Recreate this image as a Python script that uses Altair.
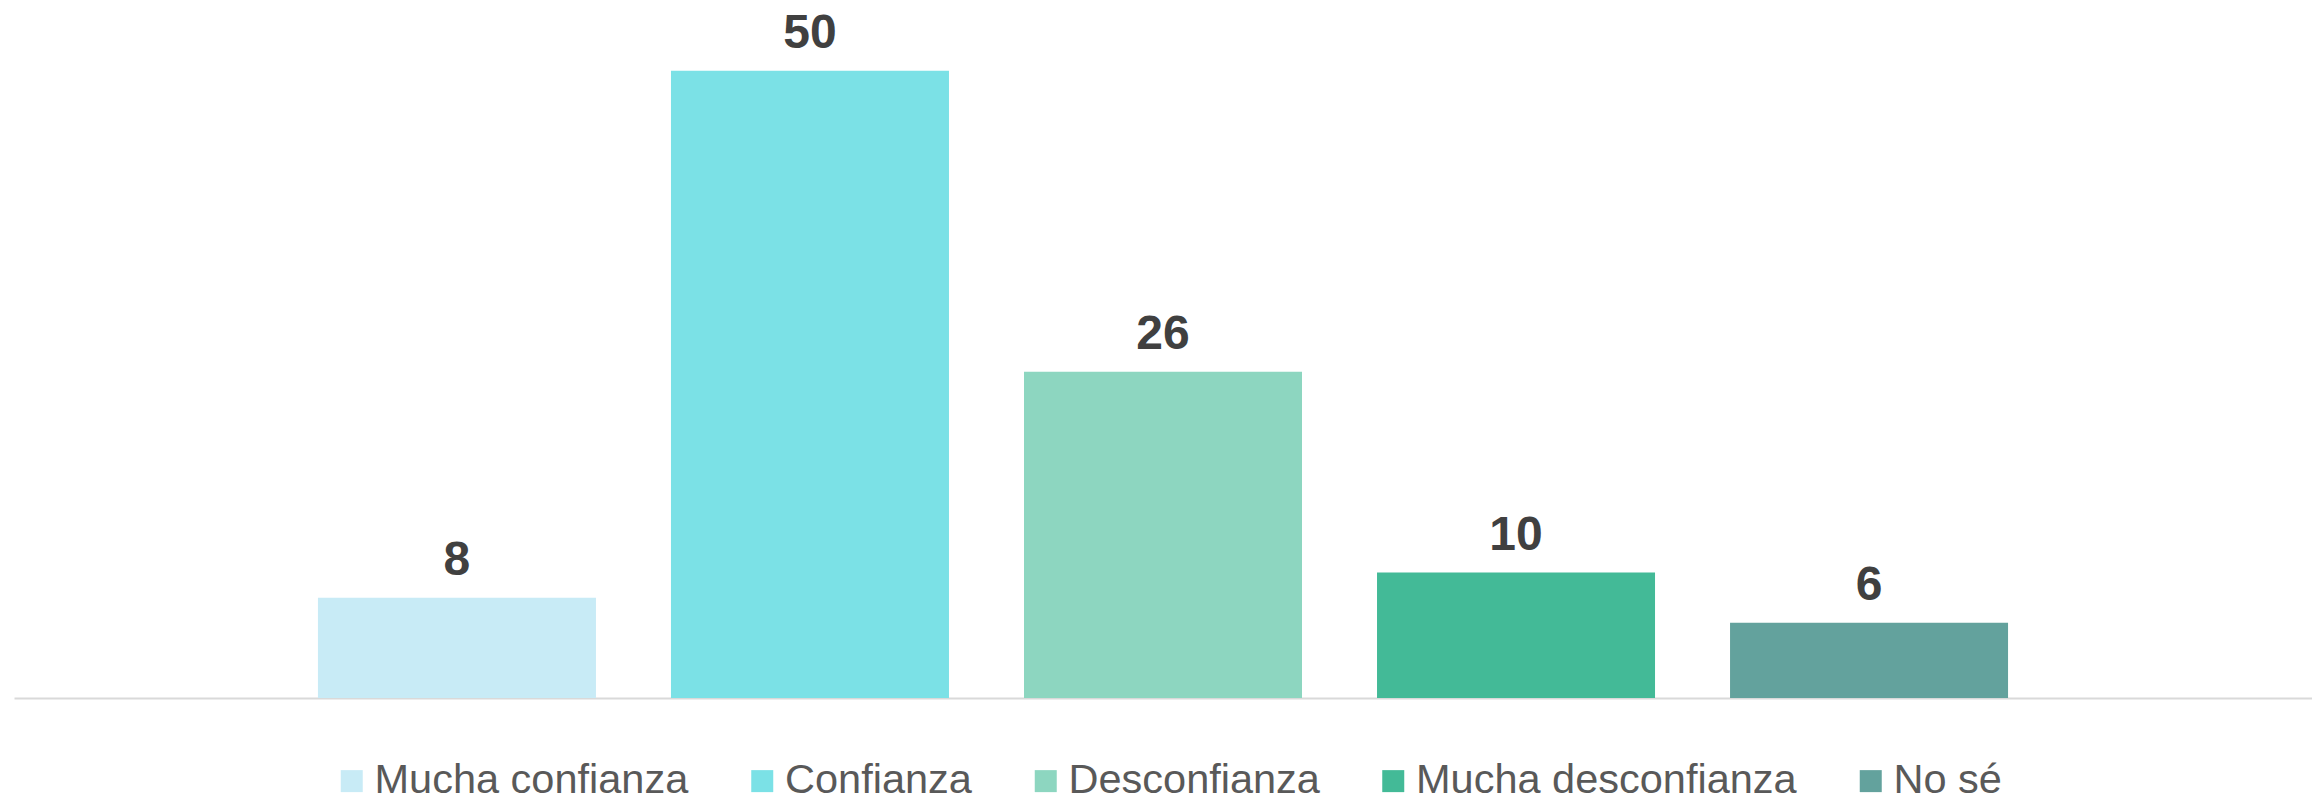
import altair as alt
import pandas as pd

categories = ["Mucha confianza", "Confianza", "Desconfianza", "Mucha desconfianza", "No sé"]
values = [8, 50, 26, 10, 6]
colors = ["#C8EBF6", "#7BE1E6", "#8DD6C0", "#43BA97", "#63A29D"]

df = pd.DataFrame({"cat": categories, "val": values})

x = alt.X("cat:N", sort=categories,
          scale=alt.Scale(paddingInner=0.2125, paddingOuter=0.861),
          axis=alt.Axis(labels=False, ticks=False, title=None, domainColor="#D9D9D9",
                        domainWidth=2, grid=False))
y = alt.Y("val:Q", scale=alt.Scale(domain=[0, 55], nice=False), axis=None)

bars = alt.Chart(df).mark_bar(cornerRadius=0).encode(
    x=x, y=y,
    color=alt.Color("cat:N", sort=categories,
                    scale=alt.Scale(domain=categories, range=colors),
                    legend=alt.Legend(
                        title=None, orient="none", direction="horizontal",
                        legendX=317, legendY=752,
                        symbolType="square", symbolSize=484, symbolStrokeWidth=0,
                        labelFontSize=41.5, labelFont="Liberation Sans", labelColor="#595959",
                        labelOffset=2, columnPadding=52.5, labelLimit=600, padding=0,
                    )),
)

labels = alt.Chart(df).mark_text(
    font="Liberation Sans", fontSize=48, fontWeight="bold", color="#404040",
    baseline="alphabetic", dy=-23,
).encode(x=alt.X("cat:N", sort=categories), y="val:Q", text="val:Q")

chart = alt.layer(bars, labels).properties(
    width=2298, height=690,
    padding={"left": 6, "top": 0, "right": 0, "bottom": 100},
    autosize=alt.AutoSizeParams(type="none"),
    background="white",
).configure_view(stroke=None)

chart.save("out.html", embed_options={"renderer": "svg", "actions": False})
